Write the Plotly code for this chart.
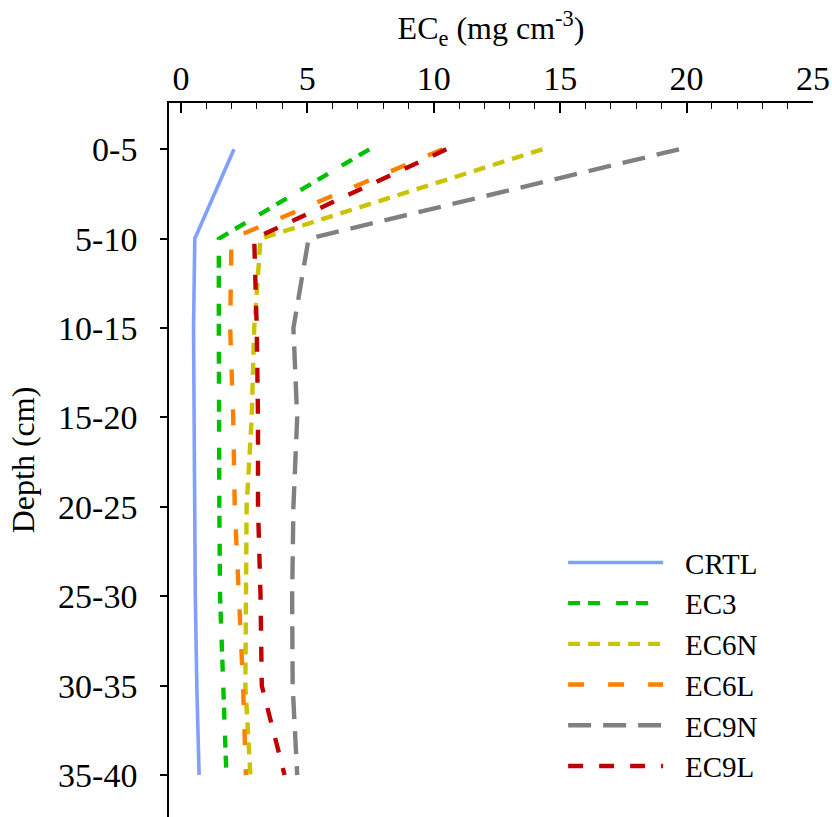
import plotly.graph_objects as go

depth = ["0-5", "5-10", "10-15", "15-20", "20-25", "25-30", "30-35", "35-40"]
crtl = [2.1, 0.55, 0.5, 0.52, 0.55, 0.57, 0.63, 0.72]
ec3 = [7.45, 1.5, 1.5, 1.5, 1.52, 1.55, 1.68, 1.8]
ec6n = [14.3, 3.15, 2.9, 2.8, 2.6, 2.58, 2.55, 2.75]
ec6l = [10.35, 2.0, 1.95, 2.07, 2.13, 2.3, 2.46, 2.57]
ec9n = [19.7, 5.05, 4.45, 4.6, 4.45, 4.4, 4.42, 4.6]
ec9l = [10.5, 2.9, 3.0, 3.05, 3.05, 3.15, 3.2, 4.1]

series = [
    ("CRTL", crtl, "#809fff", "solid", 3.6),
    ("EC3", ec3, "#00c000", "12px,8px,12px,16px", 4.4),
    ("EC6N", ec6n, "#c9c300", "12px,8px", 4.4),
    ("EC6L", ec6l, "#ff8000", "16px,24px", 4.4),
    ("EC9N", ec9n, "#808080", "23px,12px", 4.4),
    ("EC9L", ec9l, "#c00000", "15px,16px", 4.4),
]

FONT = "Liberation Serif, Times New Roman, serif"
GAP = "\u2002\u200a"

fig = go.Figure()
for name, vals, color, dash, w in series:
    fig.add_trace(go.Scatter(
        x=vals, y=depth, mode="lines", name=GAP + name,
        line=dict(color=color, dash=dash, width=w),
    ))

fig.update_layout(
    width=832, height=817,
    margin=dict(l=169, r=19, t=103, b=0, pad=0, autoexpand=False),
    paper_bgcolor="white", plot_bgcolor="white",
    font=dict(family=FONT, size=32, color="black"),
    showlegend=True,
    legend=dict(
        x=0.612, y=0.392, xanchor="left", yanchor="top",
        font=dict(family=FONT, size=29, color="black"),
        bgcolor="rgba(0,0,0,0)", itemwidth=95,
        tracegroupgap=0,
    ),
    xaxis=dict(
        side="top", range=[-0.47, 25], dtick=5, tick0=0,
        automargin=False,
        showgrid=False, zeroline=False,
        showline=True, linecolor="black", linewidth=1.5,
        ticks="inside", ticklen=10, tickwidth=1.5, tickcolor="black",
        minor=dict(dtick=1, tick0=0, ticks="inside", ticklen=6, tickwidth=1.2, tickcolor="black"),
        tickfont=dict(family=FONT, size=34),
        ticklabelstandoff=-2,
        title=dict(text="EC<sub>e</sub> (mg cm<sup>-3</sup>)", font=dict(family=FONT, size=32), standoff=10),
    ),
    yaxis=dict(
        type="category", range=[7.469, -0.518],
        automargin=False,
        showgrid=False, zeroline=False,
        showline=True, linecolor="black", linewidth=1.5,
        ticks="outside", ticklen=7, tickwidth=1.5, tickcolor="black",
        tickfont=dict(family=FONT, size=34),
        ticklabelstandoff=16,
        title=dict(text="Depth (cm)", font=dict(family=FONT, size=32), standoff=14),
    ),
)

fig.write_html(
    "out.html",
    config={"displayModeBar": False},
    post_script="document.body.style.margin='0';document.body.style.overflow='hidden';",
)
